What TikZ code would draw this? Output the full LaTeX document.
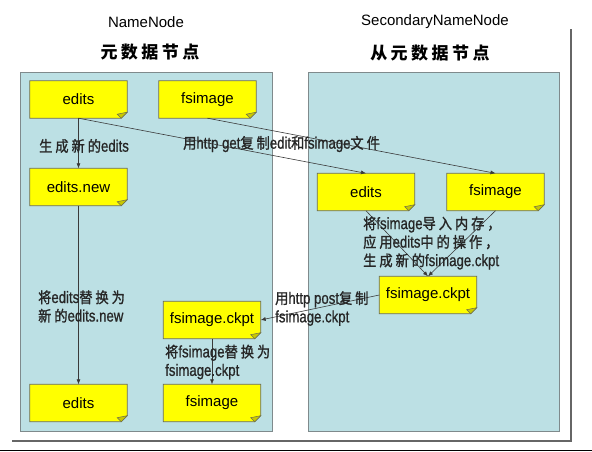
\documentclass[tikz,border=0pt]{standalone}
\usepackage{fontspec}
\setmainfont{Liberation Sans}
\newfontfamily\cjk{Noto Sans CJK SC}
\newfontfamily\lbllat{Liberation Sans}[FakeStretch=0.8,FakeBold=0.8]
\newfontfamily\lblzh{Noto Sans CJK SC}[FakeStretch=0.88,LetterSpace=20,FakeBold=1.4]
\newcommand{\zh}[1]{{\lblzh\fontsize{15}{18.5}\selectfont #1}}
\usetikzlibrary{arrows.meta,calc}
\pgfdeclarelayer{back}
\pgfdeclarelayer{notes}
\pgfsetlayers{back,notes,main}
\definecolor{panelfill}{HTML}{BCE0E4}
\definecolor{paneldraw}{HTML}{7F8A8C}
\definecolor{notefill}{HTML}{FFFF00}
\definecolor{notedraw}{HTML}{6E6E50}
\definecolor{foldfill}{HTML}{C8C800}
\definecolor{linecol}{HTML}{3A3A3A}
\begin{document}
\begin{tikzpicture}[x=1pt,y=-1pt,
  note/.style={minimum width=97pt,minimum height=37pt,inner sep=0pt,font=\fontsize{15}{18}\selectfont},
  lbl/.style={anchor=west,align=left,inner sep=0pt,text=black!85,font=\lbllat\fontsize{16.5}{18.5}\selectfont},
  conn/.style={draw=linecol,line width=0.6pt,-{Latex[length=5pt,width=4pt]}},
  panel/.style={fill=panelfill,draw=paneldraw,line width=0.8pt}]
\useasboundingbox (0,0) rectangle (592,451);
\begin{pgfonlayer}{back}
  \draw[line width=2.5pt,draw=black!60] (571,29) -- (571,441) -- (12,441);
  \draw[line width=1pt,black] (0,450.5) -- (592,450.5);
  \path[panel] (20,72) rectangle (272,431);
  \path[panel] (308,72) rectangle (559,431);
\end{pgfonlayer}
% titles
\node[font=\fontsize{15}{18}\selectfont] (t1) at (146,22) {NameNode};
\node[font=\fontsize{15}{18}\selectfont] (t2) at (435,22) {SecondaryNameNode};
\node[font=\cjk\bfseries\fontsize{17}{20}\selectfont] (c1) at (150,52) {元\hspace{3.5pt}数\hspace{3.5pt}据\hspace{3.5pt}节\hspace{3.5pt}点};
\node[font=\cjk\bfseries\fontsize{17}{20}\selectfont] (c2) at (430,53) {从\hspace{3.5pt}元\hspace{3.5pt}数\hspace{3.5pt}据\hspace{3.5pt}节\hspace{3.5pt}点};
% notes
\node[note] (le)  at (78.5,99.5) {edits};
\node[note] (lf)  at (207.5,99.5) {fsimage};
\node[note] (len) at (78.5,187) {edits.new};
\node[note] (le2) at (78.5,403) {edits};
\node[note] (lf2) at (212,403) {fsimage};
\node[note] (lc)  at (212,320) {fsimage.ckpt};
\node[note] (re)  at (366,192) {edits};
\node[note] (rf)  at (495.5,192) {fsimage};
\node[note] (rc)  at (428,295) {fsimage.ckpt};
\begin{pgfonlayer}{notes}
\foreach \n in {le,lf,len,le2,lf2,lc,re,rf,rc}{
  \filldraw[fill=notefill,draw=notedraw,line width=0.7pt]
    (\n.north west) -- (\n.north east) -- ($(\n.south east)+(0,-6)$)
    -- ($(\n.south east)+(-6,0)$) -- (\n.south west) -- cycle;
  \filldraw[fill=foldfill,draw=notedraw,line width=0.5pt]
    ($(\n.south east)+(0,-6)$) -- ($(\n.south east)+(-10,-4)$) -- ($(\n.south east)+(-6,0)$) -- cycle;
}
\end{pgfonlayer}
% connectors
\draw[conn] (le.south) -- (len.north);
\draw[conn] (len.south) -- (le2.north);
\draw[conn] (le.south) -- (re.north);
\draw[conn] (lf.south) -- (rf.north);
\draw[conn] (re.south) -- (rc.north);
\draw[conn] (rf.south) -- (rc.north);
\draw[conn] (rc.west) -- (lc.east);
\draw[conn] (lc.south) -- (lf2.north);
% labels
\node[lbl] (l1) at (39,146) {\zh{生成新的}edits};
\node[lbl] (l2) at (183,144) {\zh{用}http get\zh{复制}edit\zh{和}fsimage\zh{文件}};
\node[lbl] (l3) at (38,306.5) {\zh{将}edits\zh{替换为}\\\zh{新的}edits.new};
\node[lbl] (l4) at (165,362) {\zh{将}fsimage\zh{替换为}\\fsimage.ckpt};
\node[lbl] (l5) at (363,243) {\zh{将}fsimage\zh{导入内存，}\\\zh{应用}edits\zh{中的操作，}\\\zh{生成新的}fsimage.ckpt};
\node[lbl] (l6) at (275,308.5) {\zh{用}http post\zh{复制}\\fsimage.ckpt};
\end{tikzpicture}
\end{document}
